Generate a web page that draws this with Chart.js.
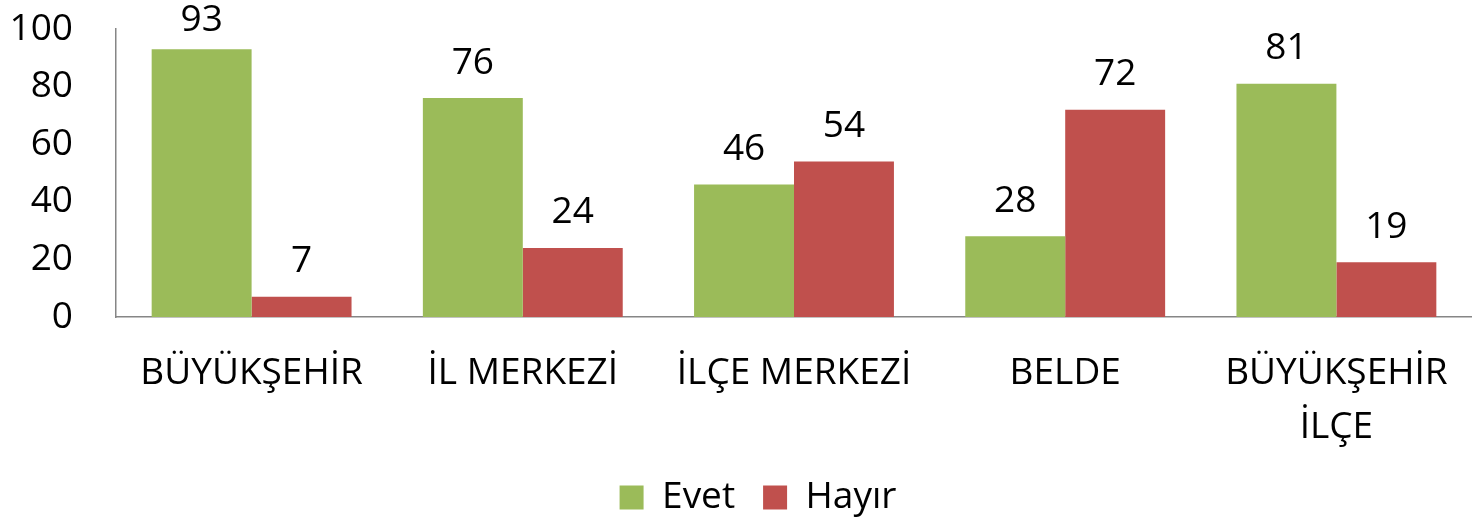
<!DOCTYPE html>
<html lang="tr">
<head>
    <meta charset="UTF-8">
    <title>Evet / Hayır</title>
    <script src="https://cdn.jsdelivr.net/npm/chart.js"></script>
    <style>
        html, body { margin: 0; padding: 0; background: #fff; }
    </style>
</head>
<body>
<canvas id="chart" width="1472" height="519"></canvas>

<script>
    const categories = [['BÜYÜKŞEHİR'], ['İL MERKEZİ'], ['İLÇE MERKEZİ'], ['BELDE'], ['BÜYÜKŞEHİR', 'İLÇE']];
    const evet = [93, 76, 46, 28, 81];
    const hayir = [7, 24, 54, 72, 19];
    const yTicks = [0, 20, 40, 60, 80, 100];

    const FAMILY = '"Open Sans", sans-serif';
    const SIZE = 37;

    // draws the value above each bar
    const valueLabels = {
        id: 'valueLabels',
        afterDatasetsDraw(chart) {
            const ctx = chart.ctx;
            ctx.save();
            ctx.font = SIZE + 'px ' + FAMILY;
            ctx.fillStyle = '#000';
            ctx.textAlign = 'center';
            ctx.textBaseline = 'middle';
            chart.data.datasets.forEach((ds, i) => {
                chart.getDatasetMeta(i).data.forEach((bar, j) => {
                    const y = Math.max(bar.y - 35, 20);
                    ctx.fillText(ds.data[j], bar.x, y);
                });
            });
            ctx.restore();
        }
    };

    // legend sits a bit right of centre in the original
    const nudgeLegend = {
        id: 'nudgeLegend',
        afterLayout(chart) {
            chart.legend.left += 44;
        }
    };

    new Chart(document.getElementById('chart'), {
        type: 'bar',
        data: {
            labels: categories,
            datasets: [
                { label: 'Evet', data: evet, backgroundColor: '#9BBB59' },
                { label: 'Hayır', data: hayir, backgroundColor: '#C0504D' }
            ]
        },
        options: {
            responsive: false,
            animation: false,
            devicePixelRatio: 1,
            layout: { padding: { top: 29, right: 0, bottom: -7, left: 0 } },
            datasets: { bar: { barPercentage: 1, categoryPercentage: 0.737 } },
            plugins: {
                tooltip: { enabled: false },
                legend: {
                    position: 'bottom',
                    labels: {
                        color: '#000',
                        font: { family: FAMILY, size: SIZE, lineHeight: 1.0 },
                        boxWidth: 24,
                        boxHeight: 24,
                        padding: 28
                    }
                }
            },
            scales: {
                x: {
                    grid: { display: false, drawTicks: false },
                    border: { display: true, color: '#868686', width: 1.5 },
                    ticks: {
                        color: '#000',
                        font: { family: FAMILY, size: SIZE, lineHeight: 1.45 },
                        padding: 30, maxRotation: 0, autoSkip: false
                    },
                    afterFit(axis) {
                        axis.height = 134;
                        axis.paddingLeft = 0;
                        axis.paddingRight = 0;
                    }
                },
                y: {
                    min: 0,
                    max: 100,
                    afterBuildTicks(axis) { axis.ticks = yTicks.map(v => ({ value: v })); },
                    grid: { display: false, drawTicks: false },
                    border: { display: true, color: '#868686', width: 1.5 },
                    ticks: {
                        color: '#000',
                        font: { family: FAMILY, size: SIZE, lineHeight: 1.2 },
                        padding: 43, autoSkip: false
                    },
                    afterFit(axis) {
                        axis.width = 116;
                        axis.paddingTop = 0;
                        axis.paddingBottom = 0;
                    }
                }
            }
        },
        plugins: [valueLabels, nudgeLegend]
    });
</script>
</body>
</html>
